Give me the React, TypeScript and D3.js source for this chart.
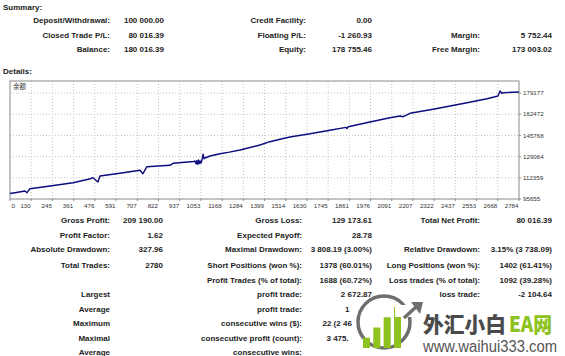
import React from "react";
import * as d3 from "d3";

const W = 565;
const H = 356;

// Balance curve (trade number -> balance)
const trades = [0, 27, 82, 93, 109, 219, 345, 440, 454, 481, 492, 600, 711, 727, 749, 875, 892, 1005, 1012, 1018, 1022, 1027, 1031, 1036, 1040, 1045, 1050, 1056, 1062, 1067, 1094, 1149, 1200, 1258, 1367, 1422, 1477, 1531, 1641, 1750, 1838, 1843, 1850, 1969, 2078, 2133, 2150, 2188, 2314, 2407, 2500, 2609, 2669, 2680, 2690, 2697, 2784];
const balances = [100000, 100600, 101958, 100619, 103770, 105898, 108498, 111600, 112437, 109049, 113777, 115900, 118268, 115589, 121104, 122207, 123783, 125200, 125595, 123300, 125900, 123000, 126400, 123500, 125600, 123900, 126300, 130874, 127300, 127959, 129535, 131347, 132600, 134262, 138202, 140802, 142693, 144505, 147105, 149784, 152100, 151200, 152600, 156323, 159711, 161051, 160500, 163178, 166330, 168930, 171530, 174682, 176810, 180749, 178900, 179409, 180016];

const xTickLabels = ["0", "130", "245", "361", "476", "591", "707", "822", "937", "1053", "1168", "1284", "1399", "1514", "1630", "1745", "1861", "1976", "2091", "2207", "2322", "2437", "2553", "2668", "2784"];
const yTickValues = [95655, 112359, 129064, 145768, 162472, 179177];
const chartTitle = "余额";

// Summary block
const summaryCol1Labels = ["Deposit/Withdrawal:", "Closed Trade P/L:", "Balance:"];
const summaryCol1Values = ["100 000.00", "80 016.39", "180 016.39"];
const summaryCol2Labels = ["Credit Facility:", "Floating P/L:", "Equity:"];
const summaryCol2Values = ["0.00", "-1 260.93", "178 755.46"];
const summaryCol3Labels = ["", "Margin:", "Free Margin:"];
const summaryCol3Values = ["", "5 752.44", "173 003.02"];

// Details block
const detailCol1Labels = ["Gross Profit:", "Profit Factor:", "Absolute Drawdown:", "Total Trades:", "", "Largest", "Average", "Maximum", "Maximal", "Average"];
const detailCol1Values = ["209 190.00", "1.62", "327.96", "2780", "", "", "", "", "", ""];
const detailCol2Labels = ["Gross Loss:", "Expected Payoff:", "Maximal Drawdown:", "Short Positions (won %):", "Profit Trades (% of total):", "profit trade:", "profit trade:", "consecutive wins ($):", "consecutive profit (count):", "consecutive wins:"];
const detailCol2Values = ["129 173.61", "28.78", "3 808.19 (3.00%)", "1378 (60.01%)", "1688 (60.72%)", "2 672.87", "", "", "", ""];
const detailCol3Labels = ["Total Net Profit:", "", "Relative Drawdown:", "Long Positions (won %):", "Loss trades (% of total):", "loss trade:", "", "", "", ""];
const detailCol3Values = ["80 016.39", "", "3.15% (3 738.09)", "1402 (61.41%)", "1092 (39.28%)", "-2 104.64", "", "", "", ""];
// partially hidden values (behind the watermark), drawn left-anchored
const hiddenPartials = [
  { row: 6, text: "1", x: 345 },
  { row: 7, text: "22 (2 46", x: 322.5 },
  { row: 8, text: "3 475.", x: 326.5 },
];

const summaryRowsY = [23, 37.5, 52];
const detailRowsY = [223, 237.5, 252, 268, 282.5, 297, 311.5, 326, 340.5, 355];

const wmBars = [1, 2, 3, 4];

const FONT = "'Liberation Sans', Arial, sans-serif";
const TXT = "#1d1d1d";

export default function App() {
  const frame = { left: 10, right: 519, top: 81, bottom: 199 };
  const step = 21.2;
  const yMax = yTickValues[0] + ((frame.bottom - frame.top) / step) * (yTickValues[1] - yTickValues[0]);
  const x = d3.scaleLinear().domain([0, 2784]).range([frame.left, frame.right]);
  const y = d3.scaleLinear().domain([yTickValues[0], yMax]).range([frame.bottom, frame.top]);
  const xp = d3.scalePoint<string>().domain(xTickLabels).range([frame.left, frame.right]);

  const pts = trades.map((t, i) => [t, balances[i]] as [number, number]);
  const line = d3.line<[number, number]>().x((d) => x(d[0])).y((d) => y(d[1]));

  const bold = { fontFamily: FONT, fontWeight: 700, fontSize: 8, fill: TXT } as const;

  const rowText = (
    labels: string[],
    values: string[],
    rowsY: number[],
    lx: number,
    vx: number,
    key: string
  ) =>
    rowsY.map((yy, i) => (
      <g key={key + i}>
        {labels[i] ? (
          <text x={lx} y={yy} textAnchor="end" {...bold}>
            {labels[i]}
          </text>
        ) : null}
        {values[i] ? (
          <text x={vx} y={yy} textAnchor="end" {...bold}>
            {values[i]}
          </text>
        ) : null}
      </g>
    ));

  // watermark geometry
  const cx = 384;
  const cy = 322;
  const r = 26;
  const barScale = d3.scaleBand<number>().domain(wmBars).range([363, 401]).paddingInner(0.32);
  const barH = d3.scaleLinear().domain([0, 4]).range([0, 41]);

  return (
    <svg
      width={W}
      height={H}
      viewBox={`0 0 ${W} ${H}`}
      style={{ position: "absolute", left: 0, top: 0, background: "#fff" }}
    >
      <rect x={0} y={0} width={W} height={H} fill="#fff" />
      <text x={3} y={10} {...bold}>Summary:</text>
      {rowText(summaryCol1Labels, summaryCol1Values, summaryRowsY, 110, 164, "s1")}
      {rowText(summaryCol2Labels, summaryCol2Values, summaryRowsY, 306, 372, "s2")}
      {rowText(summaryCol3Labels, summaryCol3Values, summaryRowsY, 480, 552, "s3")}
      <text x={3} y={74} {...bold}>Details:</text>

      {/* chart */}
      <g>
        {xTickLabels.slice(1, -1).map((l) => (
          <line key={"vg" + l} x1={xp(l)} x2={xp(l)} y1={frame.top} y2={frame.bottom} stroke="#c4c4c4" strokeWidth={1} strokeDasharray="1 2" />
        ))}
        {yTickValues.slice(1).map((v) => (
          <line key={"hg" + v} x1={frame.left} x2={frame.right} y1={y(v)} y2={y(v)} stroke="#c4c4c4" strokeWidth={1} strokeDasharray="1 2" />
        ))}
        <rect x={frame.left} y={frame.top} width={frame.right - frame.left} height={frame.bottom - frame.top} fill="none" stroke="#8a8a8a" strokeWidth={1} />
        <text x={frame.left + 3} y={frame.top + 8} fontFamily="'Noto Sans CJK SC', sans-serif" fontSize={6.5} fill="#333">{chartTitle}</text>
        <path d={line(pts) || ""} fill="none" stroke="#0c0c7e" strokeWidth={1.4} strokeLinejoin="round" />
        {xTickLabels.map((l, i) => (
          <g key={"xt" + l}>
            <line x1={xp(l)} x2={xp(l)} y1={frame.bottom} y2={frame.bottom + 2} stroke="#8a8a8a" />
            <text
              x={i === 0 ? (xp(l) as number) + 1.5 : (xp(l) as number) - 0.5}
              y={207.5}
              textAnchor={i === 0 ? "start" : "end"}
              fontFamily={FONT}
              fontSize={6.2}
              fill="#333"
            >
              {l}
            </text>
          </g>
        ))}
        {yTickValues.map((v) => (
          <g key={"yt" + v}>
            <line x1={frame.right} x2={frame.right + 2} y1={y(v)} y2={y(v)} stroke="#8a8a8a" />
            <text x={523} y={y(v) + 2.2} fontFamily={FONT} fontSize={6.2} fill="#333">
              {v}
            </text>
          </g>
        ))}
      </g>

      {rowText(detailCol1Labels, detailCol1Values, detailRowsY, 110, 163, "d1")}
      {rowText(detailCol2Labels, detailCol2Values, detailRowsY, 302, 372, "d2")}
      {rowText(detailCol3Labels, detailCol3Values, detailRowsY, 480, 552, "d3")}
      {hiddenPartials.map((p) => (
        <text key={"hp" + p.row} x={p.x} y={detailRowsY[p.row]} {...bold}>
          {p.text}
        </text>
      ))}

      {/* watermark */}
      <g>
        <circle cx={cx} cy={cy} r={r} fill="#fff" stroke="#6e6e6e" strokeWidth={3.5} />
        {wmBars.map((b) => (
          <rect
            key={"wb" + b}
            x={barScale(b)}
            y={348 - barH(b)}
            width={barScale.bandwidth()}
            height={barH(b)}
            fill="#8dc21f"
          />
        ))}
        <rect x={395} y={305} width={30} height={12} fill="#fff" />
        <path d="M 404 318 L 416 307" stroke="#6e6e6e" strokeWidth={3.5} fill="none" />
        <path d="M 411 302 L 423 302 L 420 314 Z" fill="#6e6e6e" />
        <text x={423} y={332} fontFamily="'Noto Sans CJK SC', sans-serif" fontWeight={900} fontSize={21} fill="#4a4a4a" textLength={83} lengthAdjust="spacingAndGlyphs">
          外汇小白
        </text>
        <text x={509} y={332} fontFamily="'Noto Sans CJK SC', sans-serif" fontWeight={900} fontSize={21} fill="#8dc21f" textLength={43} lengthAdjust="spacingAndGlyphs">
          EA网
        </text>
        <text x={423} y={352} fontFamily={FONT} fontSize={15.8} fill="#555" textLength={134} lengthAdjust="spacingAndGlyphs">
          www.waihui333.com
        </text>
      </g>
    </svg>
  );
}
